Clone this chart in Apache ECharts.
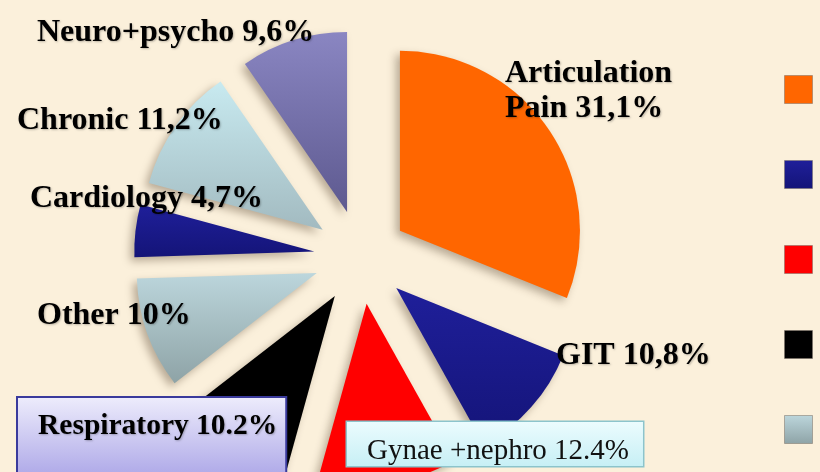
<!DOCTYPE html>
<html>
<head>
<meta charset="utf-8">
<script src="https://cdn.jsdelivr.net/npm/echarts@6/dist/echarts.min.js"></script>
<style>
  html, body { margin: 0; padding: 0; background: #fbf0db; }
  #chart { width: 820px; height: 472px; }
</style>
</head>
<body>
<div id="chart"></div>
<script>
// clockwise from 12 o'clock
const categories = ['Articulation Pain', 'GIT', 'Gynae +nephro', 'Respiratory', 'Other', 'Cardiology', 'Chronic', 'Neuro+psycho'];
const shares = [31.1, 10.8, 12.4, 10.2, 10, 4.7, 11.2, 9.6];
const shareText = ['31,1%', '10,8%', '12.4%', '10.2%', '10%', '4,7%', '11,2%', '9,6%'];

const grad = (a, b) => new echarts.graphic.LinearGradient(0, 0, 0, 1, [
  { offset: 0, color: a }, { offset: 1, color: b }
]);
const navy = () => grad('#1f1f9a', '#141478');
const colors = [
  '#ff6600', navy(), '#ff0000', '#000000',
  grad('#bcd6dc', '#8ea3a6'), navy(),
  grad('#c8eaf0', '#a2bac0'), grad('#8a86c2', '#5d598f')
];

// label anchors (left edge, vertical middle)
const labelAnchor = [
  [505, 91], [556, 356], [347, 444], [18, 440],
  [37, 316], [30, 199], [17, 121], [37, 33]
];

const serif = '"Liberation Serif", "DejaVu Serif", serif';
const boldLabel = {
  fontFamily: serif,
  fontWeight: 'bold',
  fontSize: 32,
  color: '#000',
  overflow: 'none',
  textShadowColor: 'rgba(0,0,0,0.25)',
  textShadowBlur: 2,
  textShadowOffsetX: 1,
  textShadowOffsetY: 1
};

const labelFor = i => {
  if (i === 0) {
    return Object.assign({}, boldLabel, { formatter: 'Articulation\nPain ' + shareText[0], lineHeight: 35 });
  }
  if (i === 3) {
    // boxed label, text sits in the upper part of the box
    return Object.assign({}, boldLabel, {
      fontSize: 29.5,
      lineHeight: 28,
      backgroundColor: grad('#eeedfc', '#a8a2e6'),
      borderColor: '#3a3a9c',
      borderWidth: 2,
      padding: [14, 8, 14, 20],
      formatter: categories[i] + ' ' + shareText[i] + '\n '
    });
  }
  if (i === 2) {
    // boxed label, text sits in the lower part of the box
    return {
      fontFamily: serif,
      fontSize: 29,
      lineHeight: 14,
      color: '#111',
      overflow: 'none',
      backgroundColor: grad('#ecfcfe', '#c6eff5'),
      borderColor: '#8cc4cc',
      borderWidth: 1.5,
      padding: [8, 14, 8, 20],
      formatter: ' \n' + categories[i] + ' ' + shareText[i]
    };
  }
  return Object.assign({}, boldLabel, { formatter: categories[i] + ' ' + shareText[i] });
};

const pieBase = {
  type: 'pie',
  center: [361, 257],
  radius: [0, 180],
  startAngle: 90,
  clockwise: true,
  silent: true,
  avoidLabelOverlap: false
};

const chart = echarts.init(document.getElementById('chart'));
chart.setOption({
  backgroundColor: '#fbf0db',
  animation: false,
  legend: {
    orient: 'vertical',
    left: 784,
    top: 75,
    padding: 0,
    itemWidth: 28,
    itemHeight: 28,
    itemGap: 56,
    icon: 'rect',
    selectedMode: false,
    itemStyle: { borderColor: 'rgba(120,110,100,0.5)', borderWidth: 1 },
    textStyle: { padding: [0, 0, 0, 12], fontSize: 20 },
    data: categories
  },
  series: [
    // exploded slices
    Object.assign({}, pieBase, {
      selectedMode: 'multiple',
      selectedOffset: 47,
      itemStyle: {
        shadowColor: 'rgba(60,40,20,0.35)',
        shadowBlur: 8,
        shadowOffsetX: -4,
        shadowOffsetY: 4
      },
      label: { show: false },
      labelLine: { show: false },
      data: categories.map((name, i) => ({
        name,
        value: shares[i],
        selected: true,
        itemStyle: { color: colors[i] }
      }))
    }),
    // transparent copy that only carries the labels
    Object.assign({}, pieBase, {
      z: 3,
      itemStyle: { color: 'rgba(0,0,0,0)', borderWidth: 0 },
      label: { show: true, position: 'outside', alignTo: 'none', overflow: 'none' },
      labelLine: { show: false },
      labelLayout: p => ({
        x: labelAnchor[p.dataIndex][0],
        y: labelAnchor[p.dataIndex][1],
        align: 'left',
        verticalAlign: 'middle',
        hideOverlap: false
      }),
      data: categories.map((name, i) => ({
        name,
        value: shares[i],
        label: labelFor(i)
      }))
    })
  ]
});
</script>
</body>
</html>
